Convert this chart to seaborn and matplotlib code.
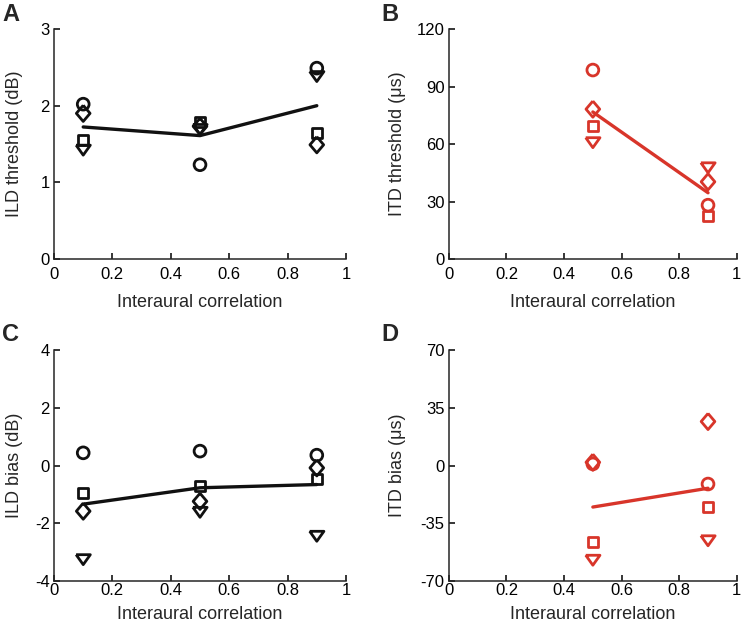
import numpy as np
import pandas as pd
import matplotlib
matplotlib.use("Agg")
import matplotlib.pyplot as plt
import seaborn as sns

# interaural correlation values
corr_ild = [0.1, 0.5, 0.9]
corr_itd = [0.5, 0.9]

# one list per listener (marker)
ild_thr_circle = [2.02, 1.23, 2.49]
ild_thr_square = [1.55, 1.79, 1.64]
ild_thr_diamond = [1.90, 1.73, 1.49]
ild_thr_triangle = [1.42, 1.69, 2.38]

itd_thr_circle = [98.6, 28.1]
itd_thr_square = [69.4, 22.3]
itd_thr_diamond = [78.2, 40.3]
itd_thr_triangle = [60.7, 47.6]

ild_bias_circle = [0.44, 0.50, 0.36]
ild_bias_square = [-0.95, -0.72, -0.46]
ild_bias_diamond = [-1.58, -1.24, -0.08]
ild_bias_triangle = [-3.26, -1.62, -2.45]

itd_bias_circle = [1.0, -11.2]
itd_bias_square = [-46.2, -24.9]
itd_bias_diamond = [2.0, 26.7]
itd_bias_triangle = [-57.4, -45.6]

xticks = [0, 0.2, 0.4, 0.6, 0.8, 1]
xtick_labels = ["0", "0.2", "0.4", "0.6", "0.8", "1"]

black = "#111111"
red = "#d8352a"


def make_df(x, circle, square, diamond, triangle):
    rows = []
    for name, vals in [("circle", circle), ("square", square),
                       ("diamond", diamond), ("triangle", triangle)]:
        for xi, v in zip(x, vals):
            rows.append({"corr": xi, "value": v, "listener": name})
    return pd.DataFrame(rows)


sns.set_style("ticks")
plt.rcParams["font.family"] = ["Liberation Sans", "DejaVu Sans"]
plt.rcParams["axes.linewidth"] = 1.1
plt.rcParams["axes.unicode_minus"] = False

fig = plt.figure(figsize=(7.42, 6.31), dpi=100)

# letter, axes rect, x, series, colour, ylabel, ylim, yticks,
# ylabel x (axes coords), xlabel y (axes coords), tick pad, letter pos (px)
panels = [
    ("A", [0.0728, 0.5895, 0.3935, 0.3645], corr_ild,
     (ild_thr_circle, ild_thr_square, ild_thr_diamond, ild_thr_triangle),
     black, "ILD threshold (dB)", (0, 3), [0, 1, 2, 3],
     -0.105, -0.15, 5.5, (2, 3)),
    ("B", [0.605, 0.5895, 0.388, 0.3645], corr_itd,
     (itd_thr_circle, itd_thr_square, itd_thr_diamond, itd_thr_triangle),
     red, "ITD threshold (\u03bcs)", (0, 120), [0, 30, 60, 90, 120],
     -0.15, -0.15, 5.5, (381, 3)),
    ("C", [0.0728, 0.0792, 0.3935, 0.366], corr_ild,
     (ild_bias_circle, ild_bias_square, ild_bias_diamond, ild_bias_triangle),
     black, "ILD bias (dB)", (-4, 4), [-4, -2, 0, 2, 4],
     -0.105, -0.11, 1.5, (2, 323)),
    ("D", [0.605, 0.0792, 0.388, 0.366], corr_itd,
     (itd_bias_circle, itd_bias_square, itd_bias_diamond, itd_bias_triangle),
     red, "ITD bias (\u03bcs)", (-70, 70), [-70, -35, 0, 35, 70],
     -0.15, -0.11, 1.5, (381, 323)),
]

markers = {
    "circle": "o",
    "square": "s",
    "diamond": [(0, 1), (0.85, 0), (0, -1), (-0.85, 0), (0, 1)],
    "triangle": [(-1, 0.7), (1, 0.7), (0, -0.7), (-1, 0.7)],
}
sizes = {"circle": 72, "square": 52, "diamond": 135, "triangle": 105}

for (letter, rect, x, series, color, ylabel, ylim, yticks,
     ylab_x, xlab_y, pad, letter_pos) in panels:
    ax = fig.add_axes(rect)
    df = make_df(x, *series)
    # mean across listeners
    sns.lineplot(data=df, x="corr", y="value", errorbar=None, color=color,
                 linewidth=2.4, ax=ax, zorder=3)
    sns.scatterplot(data=df, x="corr", y="value", style="listener",
                    size="listener", sizes=sizes, markers=markers,
                    facecolors="none", edgecolor=color, linewidth=2.0,
                    legend=False, ax=ax, zorder=2)
    ax.set_xlim(0, 1)
    ax.set_ylim(*ylim)
    ax.set_xticks(xticks)
    ax.set_xticklabels(xtick_labels)
    ax.set_yticks(yticks)
    ax.tick_params(direction="in", length=4, width=1.1, labelsize=12,
                   colors="black")
    ax.tick_params(axis="x", pad=pad)
    ax.tick_params(axis="y", pad=3)
    sns.despine(ax=ax)
    ax.set_xlabel("Interaural correlation", fontsize=13)
    ax.set_ylabel(ylabel, fontsize=13)
    ax.yaxis.set_label_coords(ylab_x, 0.5)
    ax.xaxis.set_label_coords(0.5, xlab_y)
    fig.text(letter_pos[0] / 742, 1 - letter_pos[1] / 631, letter,
             fontsize=17, fontweight="bold", va="top", ha="left")

fig.savefig("out.png", dpi=100)
